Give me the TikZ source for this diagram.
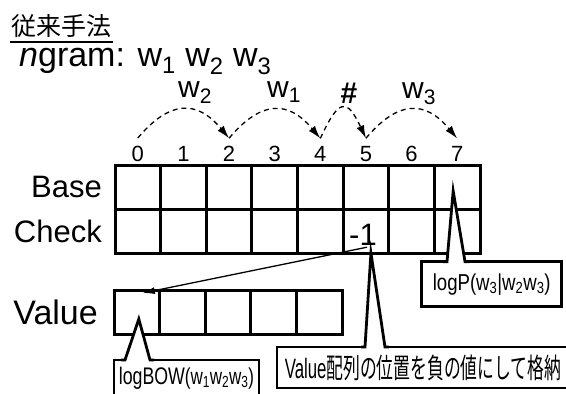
\documentclass[tikz,border=0pt]{standalone}
\usepackage{fontspec}
\setmainfont{Liberation Sans}
\newfontfamily\jpfont{Noto Sans CJK JP}
\usepackage{graphicx}
\usetikzlibrary{positioning,arrows.meta,calc}
\tikzset{
  cell/.style={draw, line width=3pt, minimum width=45.625pt, minimum height=44pt, inner sep=0pt, outer sep=0pt},
  idx/.style={inner sep=3pt, font=\fontsize{22}{22}\selectfont},
  rowlabel/.style={inner sep=0pt, font=\fontsize{31}{31}\selectfont},
  word/.style={inner sep=0pt, font=\fontsize{30}{30}\selectfont},
  hop/.style={dash pattern=on 5pt off 4pt, line width=1.3pt, -{Latex[length=13pt,width=8pt]}},
  ptr/.style={line width=1.3pt, -{Latex[length=12pt,width=7pt]}},
  callout/.style={draw, line width=2.8pt, fill=white, inner sep=0pt, outer sep=0pt},
  wedge/.style={line width=2.8pt, line join=miter}
}

\begin{document}
\begin{tikzpicture}[x=1pt,y=-1pt]
        \useasboundingbox (0,0) rectangle (566,394);
        \clip (0,0) rectangle (566,394);
        % heading
        \node[anchor=base west, inner sep=0pt, font=\jpfont\fontsize{25}{25}\selectfont] (ttl) at (11,35) {従来手法};
        \draw[line width=2.8pt] ([xshift=-1pt,yshift=-7pt]ttl.base west) -- ([xshift=2pt,yshift=-7pt]ttl.base east);
        \node[anchor=base west, inner sep=0pt, font=\fontsize{34}{34}\selectfont] (ngram) at (19,66) {\textit{n}gram: w\textsubscript{1} w\textsubscript{2} w\textsubscript{3}};
        % base / check arrays
        \node[cell, anchor=north west] (b0) at (115,165) {};
        \foreach \i [remember=\i as \j (initially 0)] in {1,...,7}
          \node[cell, right=0pt of b\j] (b\i) {};
        \foreach \i in {0,...,7}{
          \node[cell, below=0pt of b\i] (c\i) {};
          \node[idx, above=0pt of b\i] (n\i) {\i};
          \coordinate (t\i) at ([yshift=5pt]n\i.north);
        }
        \node[rowlabel, left=13pt of b0] (base) {Base};
        \node[rowlabel, left=13pt of c0] (check) {Check};
        % value array
        \node[cell, anchor=north west] (v0) at (114,290) {};
        \foreach \i [remember=\i as \j (initially 0)] in {1,...,4}
          \node[cell, right=0pt of v\j] (v\i) {};
        \node[rowlabel, font=\fontsize{34}{34}\selectfont, left=16pt of v0] (value) {Value};
        % transitions
        \node[word, anchor=base west] (w2) at (178,97) {w\textsubscript{2}};
        \node[word, anchor=base west] (w1) at (267,97) {w\textsubscript{1}};
        \node[anchor=base, inner sep=0pt, font=\bfseries\fontsize{30}{30}\selectfont] (hash) at (349,103) {\#};
        \node[word, anchor=base west] (w3) at (402,98) {w\textsubscript{3}};
        \foreach \a/\b/\ang/\lo in {0/2/50/1.4, 2/4/50/1.4, 4/5/65/2.5, 5/7/50/1.4}
          \draw[hop] (t\a) to[bend left=\ang, looseness=\lo] (t\b);
        % negative index into value
        \node[anchor=base east, inner sep=1pt, font=\fontsize{31}{31}\selectfont] (m1) at (378,245) {-1};
        \draw[ptr] ([xshift=4pt,yshift=-1pt]m1.south) -- ([xshift=6pt,yshift=-3pt]v0.north);
        % callouts
        \coordinate (lptip) at ([xshift=-4pt,yshift=-4pt]b7.center);
        \coordinate (vctip) at ([xshift=5pt]c5.south);
        \coordinate (bwtip) at ([xshift=2pt,yshift=-7pt]v0.center);
        \node[callout, minimum width=140pt, minimum height=45pt] (lp) at (491.7,284.2)
          {\scalebox{0.81}[1]{\fontsize{23}{23}\selectfont logP{\fontsize{23}{23}\selectfont(w\textsubscript{3}|w\textsubscript{2}w\textsubscript{3})}}};
        \node[callout, minimum width=292pt, minimum height=41pt] (vc) at (423,367.5)
          {\scalebox{0.6}[1]{\fontsize{28}{28}\selectfont Value{\jpfont 配列の位置を負の値にして格納}}};
        \node[callout, minimum width=145pt, minimum height=36pt] (bw) at (186.5,378)
          {\scalebox{0.74}[1]{\fontsize{24}{24}\selectfont logBOW{\fontsize{23}{23}\selectfont(w\textsubscript{1}w\textsubscript{2}w\textsubscript{3})}}};
        \foreach \cb/\tip/\l/\r in {lp/lptip/25.3/43.3, vc/vctip/88/108, bw/bwtip/11/36}{
          \fill[white] ($(\cb.north west)+(\l,1.6)$) -- (\tip) -- ($(\cb.north west)+(\r,1.6)$) -- cycle;
          \draw[wedge] ($(\cb.north west)+(\l-4,0)$) -- ($(\cb.north west)+(\l,0)$) -- (\tip) -- ($(\cb.north west)+(\r,0)$) -- ($(\cb.north west)+(\r+4,0)$);
        }
      \end{tikzpicture}
\end{document}
